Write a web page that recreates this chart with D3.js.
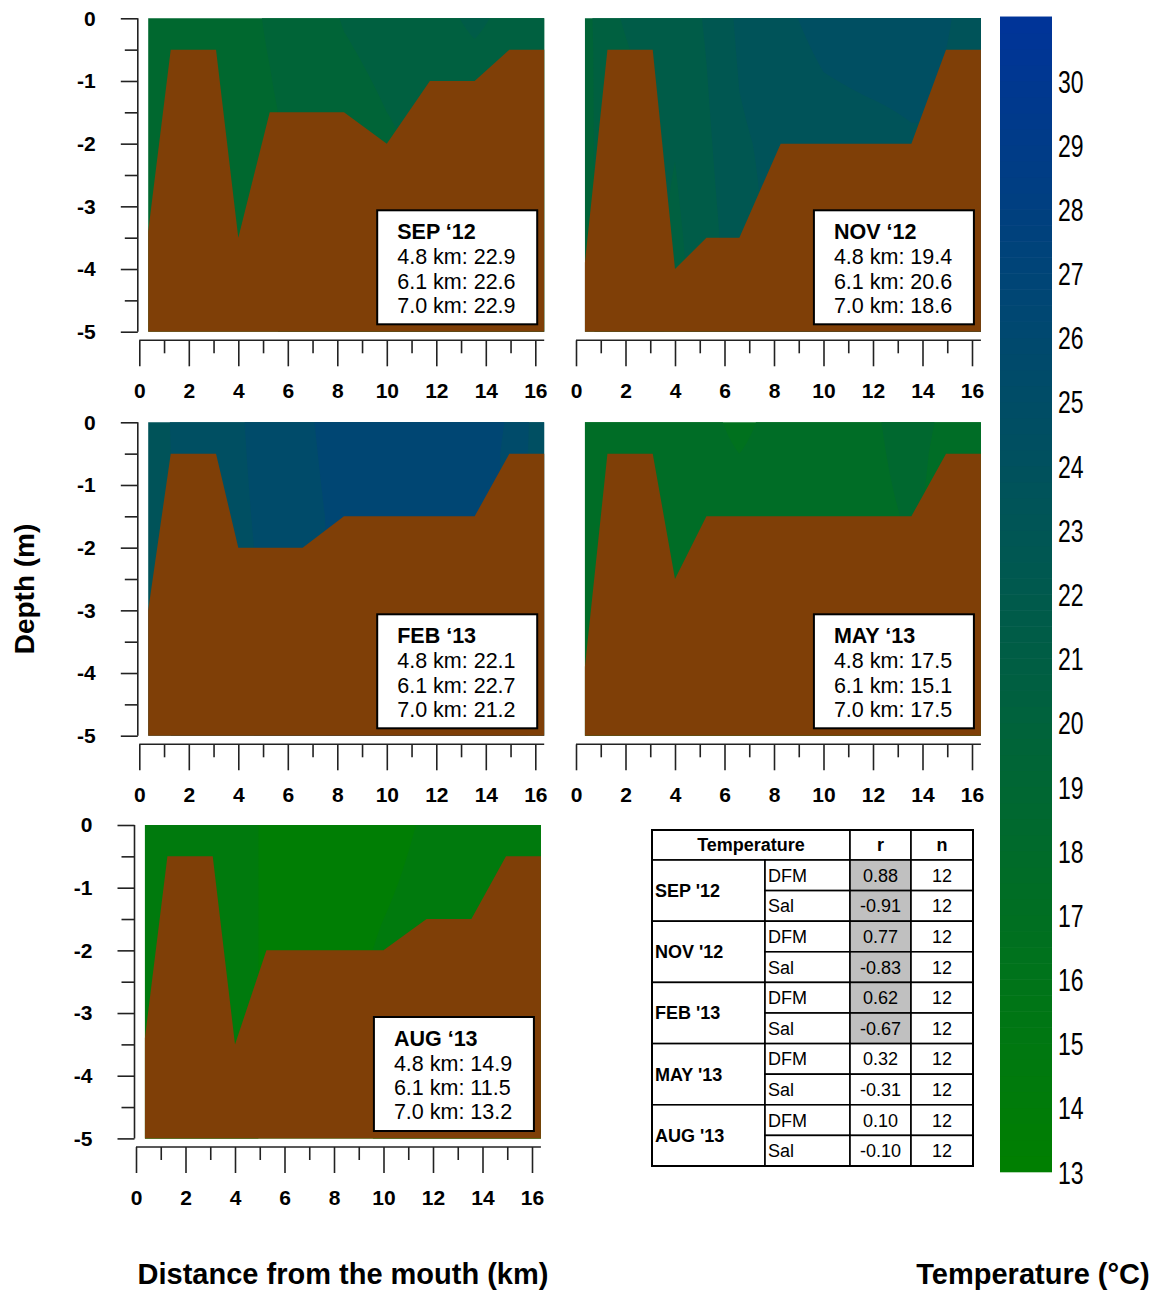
<!DOCTYPE html>
<html>
<head>
<meta charset="utf-8">
<script src="https://cdn.jsdelivr.net/npm/d3@7"></script>
<style>
  body { margin: 0; background: #fff; }
  svg text { font-family: "Liberation Sans", Arial, sans-serif; }
</style>
</head>
<body>
<svg id="chart" width="1158" height="1290"></svg>
<script>
// sampling stations along the estuary (km from the mouth)
const stations = [0.36, 1.27, 3.1, 4.0, 5.27, 6.6, 8.27, 10.0, 11.74, 13.55, 14.95, 16.36];

// bottom depth at each station (m)
const sepDepth = [-3.4, -0.5, -0.5, -3.5, -1.5, -1.5, -1.5, -2.0, -1.0, -1.0, -0.5, -0.5];
const novDepth = [-3.9, -0.5, -0.5, -4.0, -3.5, -3.5, -2.0, -2.0, -2.0, -2.0, -0.5, -0.5];
const febDepth = [-3.0, -0.5, -0.5, -2.0, -2.0, -2.0, -1.5, -1.5, -1.5, -1.5, -0.5, -0.5];
const mayDepth = [-3.9, -0.5, -0.5, -2.5, -1.5, -1.5, -1.5, -1.5, -1.5, -1.5, -0.5, -0.5];
const augDepth = [-3.4, -0.5, -0.5, -3.5, -2.0, -2.0, -2.0, -2.0, -1.5, -1.5, -0.5, -0.5];

// water temperature (°C) at surface and bottom of each station
const sepSurf = [18.3, 18.4, 18.5, 18.7, 19.1, 19.6, 20.05, 20.3, 20.4, 21.3, 20.6, 20.5];
const sepBot  = [18.1, 18.3, 18.4, 18.6, 18.9, 19.3, 19.7, 19.9, 20.2, 20.4, 20.4, 20.4];
const novSurf = [19.6, 20.8, 21.5, 21.4, 22.1, 23.2, 23.8, 24.3, 24.5, 24.5, 24.1, 23.5];
const novBot  = [19.5, 20.7, 21.3, 20.7, 21.6, 22.6, 23.3, 23.6, 23.7, 23.9, 24.0, 23.5];
const febSurf = [23.5, 24.02, 24.4, 24.9, 25.4, 25.8, 26.5, 26.7, 26.8, 26.6, 25.9, 24.3];
const febBot  = [23.5, 24.0, 24.3, 24.8, 25.2, 25.6, 26.3, 26.5, 26.6, 26.5, 25.8, 24.3];
const maySurf = [17.5, 17.5, 17.4, 17.3, 17.2, 16.8, 17.3, 17.5, 17.8, 18.4, 17.8, 17.6];
const mayBot  = [17.5, 17.5, 17.5, 17.4, 17.4, 17.4, 17.4, 17.5, 17.7, 18.1, 17.7, 17.6];
const augSurf = [14.3, 14.3, 14.2, 14.3, 13.9, 13.6, 13.6, 13.7, 14.1, 14.4, 14.4, 14.3];
const augBot  = [14.4, 14.3, 14.2, 14.3, 13.9, 13.6, 13.7, 14.1, 14.3, 14.4, 14.4, 14.3];

// values printed in the panel boxes
const boxDistances = ["4.8 km", "6.1 km", "7.0 km"];
const sepBox = ["22.9", "22.6", "22.9"];
const novBox = ["19.4", "20.6", "18.6"];
const febBox = ["22.1", "22.7", "21.2"];
const mayBox = ["17.5", "15.1", "17.5"];
const augBox = ["14.9", "11.5", "13.2"];

// correlation table
const tableMonths = ["SEP '12", "NOV '12", "FEB '13", "MAY '13", "AUG '13"];
const tableVars = ["DFM", "Sal"];
const rDFM = [0.88, 0.77, 0.62, 0.32, 0.10];
const rSal = [-0.91, -0.83, -0.67, -0.31, -0.10];
const nObs = [12, 12, 12, 12, 12];
const significant = [true, true, true, false, false];

// colour key
const colorTicks = d3.range(13, 31);
const xTicks = d3.range(0, 17);
const yTicks = d3.range(0, -5.5, -0.5);

const svg = d3.select("#chart");
const font = '"Liberation Sans", Arial, sans-serif';
const color = d3.scaleLinear().domain([13, 31]).range(["#008000", "#003399"]);
const brown = "#7f3f07";

const panels = [
  { key: "sep", title: "SEP \u201812", depth: sepDepth, surf: sepSurf, bot: sepBot, box: sepBox, px: 139.3, py: 18.3, yAxis: true },
  { key: "nov", title: "NOV \u201812", depth: novDepth, surf: novSurf, bot: novBot, box: novBox, px: 576, py: 18.3, yAxis: false },
  { key: "feb", title: "FEB \u201813", depth: febDepth, surf: febSurf, bot: febBot, box: febBox, px: 139.3, py: 422.3, yAxis: true },
  { key: "may", title: "MAY \u201813", depth: mayDepth, surf: maySurf, bot: mayBot, box: mayBox, px: 576, py: 422.3, yAxis: false },
  { key: "aug", title: "AUG \u201813", depth: augDepth, surf: augSurf, bot: augBot, box: augBox, px: 136, py: 825, yAxis: true }
];

const xStart = stations[0], xEnd = stations[stations.length - 1];
const dx = 0.04, dz = 0.02, zMax = 5;

function columnTemp(p, i, z) {
  const f = Math.min(1, z / -p.depth[i]);
  return p.surf[i] + (p.bot[i] - p.surf[i]) * f;
}

function tempAt(p, x, z) {
  let i = d3.bisectRight(stations, x) - 1;
  i = Math.max(0, Math.min(stations.length - 2, i));
  const t = Math.max(0, Math.min(1, (x - stations[i]) / (stations[i + 1] - stations[i])));
  const a = columnTemp(p, i, z), b = columnTemp(p, i + 1, z);
  return a + (b - a) * t;
}

function drawPanel(p) {
  const x = d3.scaleLinear().domain([0, 16]).range([p.px, p.px + 396]);
  const y = d3.scaleLinear().domain([0, -5]).range([p.py, p.py + 313.4]);
  const g = svg.append("g");

  const clipId = "clip-" + p.key;
  svg.append("clipPath").attr("id", clipId).append("rect")
    .attr("x", x(xStart)).attr("y", y(0))
    .attr("width", x(xEnd) - x(xStart)).attr("height", y(-5) - y(0));

  // temperature field
  const nx = Math.round((xEnd - xStart) / dx) + 1;
  const nz = Math.round(zMax / dz) + 1;
  const values = new Float64Array(nx * nz);
  for (let j = 0; j < nz; j++) {
    for (let i = 0; i < nx; i++) {
      values[j * nx + i] = tempAt(p, xStart + i * dx, j * dz);
    }
  }
  const lo = Math.floor(d3.min(values));
  const contours = d3.contours().size([nx, nz]).thresholds(d3.range(lo, 32))(values);
  const proj = d3.geoTransform({
    point: function (gx, gy) {
      this.stream.point(x(xStart + (gx - 0.5) * dx), y(-(gy - 0.5) * dz));
    }
  });
  const path = d3.geoPath(proj);
  g.append("g").attr("clip-path", `url(#${clipId})`)
    .selectAll("path").data(contours).join("path")
    .attr("d", path)
    .attr("fill", d => color(d.value + 0.5));

  // river bed
  const bed = stations.map((s, i) => [s, p.depth[i]]).concat([[xEnd, -5], [xStart, -5]]);
  g.append("path")
    .attr("d", d3.line().x(d => x(d[0])).y(d => y(d[1]))(bed) + "Z")
    .attr("fill", brown);

  // x axis
  const axisY = p.py + 322;
  const xMajor = d3.axisBottom(x).tickValues(xTicks.filter(d => d % 2 === 0))
    .tickSize(26).tickSizeOuter(0).tickPadding(17).tickFormat(d3.format("d"));
  const xMinor = d3.axisBottom(x).tickValues(xTicks.filter(d => d % 2 === 1))
    .tickSize(13).tickSizeOuter(0).tickFormat("");
  [xMinor, xMajor].forEach(ax => {
    g.append("g").attr("transform", `translate(0,${axisY})`).call(ax)
      .call(a => a.select(".domain").remove())
      .attr("color", "#222").attr("font-size", 21).attr("font-weight", "bold").attr("font-family", font)
      .call(a => a.selectAll("line").attr("stroke-width", 1.6))
      .call(a => a.selectAll("text").attr("fill", "#000"));
  });
  g.append("line").attr("x1", x(0)).attr("x2", x(xEnd)).attr("y1", axisY).attr("y2", axisY)
    .attr("stroke", "#222").attr("stroke-width", 1.6);

  // y axis
  if (p.yAxis) {
    const ax0 = p.px - 1.5;
    const yMajor = d3.axisLeft(y).tickValues(yTicks.filter(d => Number.isInteger(d)))
      .tickSize(17).tickSizeOuter(0).tickPadding(25).tickFormat(d => String(d === 0 ? 0 : d));
    const yMinor = d3.axisLeft(y).tickValues(yTicks.filter(d => !Number.isInteger(d)))
      .tickSize(13).tickSizeOuter(0).tickFormat("");
    [yMinor, yMajor].forEach(ax => {
      g.append("g").attr("transform", `translate(${ax0},0)`).call(ax)
        .call(a => a.select(".domain").remove())
        .attr("color", "#222").attr("font-size", 21).attr("font-weight", "bold").attr("font-family", font)
        .call(a => a.selectAll("line").attr("stroke-width", 1.6))
        .call(a => a.selectAll("text").attr("fill", "#000"));
    });
    g.append("line").attr("x1", ax0).attr("x2", ax0).attr("y1", y(0)).attr("y2", y(-5))
      .attr("stroke", "#222").attr("stroke-width", 1.6);
  }

  // label box
  const bw = 160, bh = 114;
  const bx = x(xEnd) - 7 - bw, by = y(0) + 192;
  g.append("rect").attr("x", bx).attr("y", by).attr("width", bw).attr("height", bh)
    .attr("fill", "#fff").attr("stroke", "#000").attr("stroke-width", 2);
  g.append("text").attr("x", bx + 20).attr("y", by + 29)
    .attr("font-size", 21.5).attr("font-weight", "bold").text(p.title);
  g.selectAll(".boxline").data(p.box).join("text")
    .attr("x", bx + 20).attr("y", (d, i) => by + 54 + i * 24.2)
    .attr("font-size", 21.5).text((d, i) => `${boxDistances[i]}: ${d}`);
}

panels.forEach(drawPanel);

// colour bar
const cy = d3.scaleLinear().domain([13, 30]).range([1172, 81]);
const step = 0.25;
svg.append("g").selectAll("rect").data(d3.range(13, 31, step)).join("rect")
  .attr("x", 1000).attr("width", 52)
  .attr("y", d => cy(d + step) - 0.3).attr("height", d => cy(d) - cy(d + step) + 0.6)
  .attr("fill", d => color(d + step / 2));
svg.append("g").selectAll("text").data(colorTicks).join("text")
  .attr("transform", d => `translate(1058,${cy(d)}) scale(1,1.4)`)
  .attr("dy", "0.36em").attr("font-size", 23).text(d => d);

// correlation table
const tCols = [652, 765, 850, 911, 973];
const tTop = 830, headH = 30, rowH = 30.6;
const tab = svg.append("g").attr("font-size", 18);
const cellStyle = sel => sel.attr("fill", "#fff").attr("stroke", "#000").attr("stroke-width", 1.6);

tab.append("rect").attr("x", tCols[0]).attr("y", tTop).attr("width", tCols[2] - tCols[0]).attr("height", headH).call(cellStyle);
tab.append("rect").attr("x", tCols[2]).attr("y", tTop).attr("width", tCols[3] - tCols[2]).attr("height", headH).call(cellStyle);
tab.append("rect").attr("x", tCols[3]).attr("y", tTop).attr("width", tCols[4] - tCols[3]).attr("height", headH).call(cellStyle);
[["Temperature", (tCols[0] + tCols[2]) / 2], ["r", (tCols[2] + tCols[3]) / 2], ["n", (tCols[3] + tCols[4]) / 2]]
  .forEach(([t, cx]) => tab.append("text").attr("x", cx).attr("y", tTop + headH / 2).attr("dy", "0.36em")
    .attr("text-anchor", "middle").attr("font-weight", "bold").text(t));

tableMonths.forEach((m, i) => {
  const y0 = tTop + headH + i * 2 * rowH;
  tab.append("rect").attr("x", tCols[0]).attr("y", y0).attr("width", tCols[1] - tCols[0]).attr("height", 2 * rowH).call(cellStyle);
  tab.append("text").attr("x", tCols[0] + 3).attr("y", y0 + rowH).attr("dy", "0.36em")
    .attr("font-weight", "bold").text(m);
  const rVals = [rDFM[i], rSal[i]];
  tableVars.forEach((v, k) => {
    const ry = y0 + k * rowH;
    tab.append("rect").attr("x", tCols[1]).attr("y", ry).attr("width", tCols[2] - tCols[1]).attr("height", rowH).call(cellStyle);
    tab.append("rect").attr("x", tCols[2]).attr("y", ry).attr("width", tCols[3] - tCols[2]).attr("height", rowH).call(cellStyle)
      .attr("fill", significant[i] ? "#c0c0c0" : "#fff");
    tab.append("rect").attr("x", tCols[3]).attr("y", ry).attr("width", tCols[4] - tCols[3]).attr("height", rowH).call(cellStyle);
    tab.append("text").attr("x", tCols[1] + 3).attr("y", ry + rowH / 2).attr("dy", "0.36em").text(v);
    tab.append("text").attr("x", (tCols[2] + tCols[3]) / 2).attr("y", ry + rowH / 2).attr("dy", "0.36em")
      .attr("text-anchor", "middle").text(rVals[k].toFixed(2));
    tab.append("text").attr("x", (tCols[3] + tCols[4]) / 2).attr("y", ry + rowH / 2).attr("dy", "0.36em")
      .attr("text-anchor", "middle").text(nObs[i]);
  });
});
tab.append("rect").attr("x", tCols[0]).attr("y", tTop).attr("width", tCols[4] - tCols[0])
  .attr("height", headH + tableMonths.length * 2 * rowH)
  .attr("fill", "none").attr("stroke", "#000").attr("stroke-width", 2);

// axis titles
svg.append("text").attr("transform", "translate(34,589) rotate(-90)")
  .attr("text-anchor", "middle").attr("font-size", 28).attr("font-weight", "bold").text("Depth (m)");
svg.append("text").attr("x", 343).attr("y", 1284)
  .attr("text-anchor", "middle").attr("font-size", 29).attr("font-weight", "bold").text("Distance from the mouth (km)");
svg.append("text").attr("x", 1033).attr("y", 1284)
  .attr("text-anchor", "middle").attr("font-size", 29).attr("font-weight", "bold").text("Temperature (\u00b0C)");
</script>
</body>
</html>
